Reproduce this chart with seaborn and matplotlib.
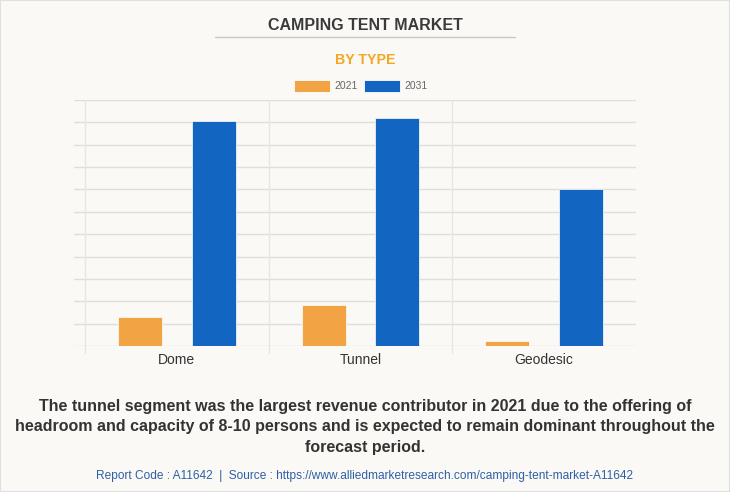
import pandas as pd
import seaborn as sns
import matplotlib.pyplot as plt
from matplotlib.patches import Rectangle
from matplotlib.lines import Line2D

# chart values (arbitrary units)
types = ['Dome', 'Tunnel', 'Geodesic']
years = ['2021', '2031']
values_2021 = [1.30, 1.83, 0.22]
values_2031 = [10.06, 10.20, 7.02]

bg = '#faf9f5'
orange = '#f2a444'
blue = '#1266c2'
grid = '#dedede'

data = pd.DataFrame({
    'type': types * 2,
    'year': [years[0]] * 3 + [years[1]] * 3,
    'value': values_2021 + values_2031,
})

sns.set_theme(style='white')
plt.rcParams['font.family'] = ['Liberation Sans', 'DejaVu Sans']

fig = plt.figure(figsize=(7.3, 4.92), dpi=100, facecolor=bg)
ax = fig.add_axes([74 / 730, 1 - 346 / 492, 562 / 730, 246 / 492])
ax.set_facecolor(bg)

sns.barplot(data=data, x='type', y='value', hue='year', order=types,
            hue_order=years, palette=[orange, blue], saturation=1,
            width=0.8, gap=0.4, edgecolor='white', linewidth=0.5,
            legend=False, ax=ax, zorder=3)

ax.set_xlim(-0.5 - 11 / 184, 2.5)
ax.set_ylim(0, 11)
ax.set_yticks(range(0, 12))
ax.yaxis.grid(True, color=grid, linewidth=1)
ax.set_yticklabels([])
ax.tick_params(axis='both', length=0)
ax.tick_params(axis='x', labelsize=10, labelcolor='#333333', pad=5)
for s in ax.spines.values():
    s.set_visible(False)
ax.set_xlabel('')
ax.set_ylabel('')

# vertical separators between categories
for xv in [-0.5, 0.5, 1.5]:
    ax.add_line(Line2D([xv, xv], [-0.3, 11], color='#e6e6e6', linewidth=1,
                       clip_on=False, zorder=1))

# title block
fig.text(0.5, 1 - 25.5 / 492, 'CAMPING TENT MARKET', ha='center', va='center',
         fontsize=11.5, fontweight='bold', color='#3a3a3a')
fig.add_artist(Line2D([215 / 730, 515 / 730], [1 - 36.5 / 492] * 2,
                      color='#c8c8c8', linewidth=1))
fig.text(0.5, 1 - 59.5 / 492, 'BY TYPE', ha='center', va='center',
         fontsize=10.2, fontweight='bold', color='#f5a623')

# legend
for x0, col, lab in [(294, orange, years[0]), (364, blue, years[1])]:
    fig.add_artist(Rectangle((x0 / 730, 1 - 92 / 492), 36 / 730, 12 / 492,
                             facecolor=col, edgecolor='white', linewidth=0.6))
    fig.text((x0 + 40) / 730, 1 - 86 / 492, lab, ha='left', va='center',
             fontsize=7.5, color='#666666')

# caption
fig.text(0.5, 1 - 427 / 492,
         'The tunnel segment was the largest revenue contributor in 2021 due to the offering of\n'
         'headroom and capacity of 8-10 persons and is expected to remain dominant throughout the\n'
         'forecast period.',
         ha='center', va='center', fontsize=11.55, fontweight='bold',
         color='#333333', linespacing=1.45)
fig.text(0.5, 1 - 475.5 / 492,
         'Report Code : A11642  |  Source : https://www.alliedmarketresearch.com/camping-tent-market-A11642',
         ha='center', va='center', fontsize=8.6, color='#2f5fa8')

fig.add_artist(Rectangle((0, 0), 1, 1, transform=fig.transFigure, fill=False,
                         edgecolor='#e0e0e0', linewidth=1.5))

fig.savefig('out.png', dpi=100, facecolor=bg)
